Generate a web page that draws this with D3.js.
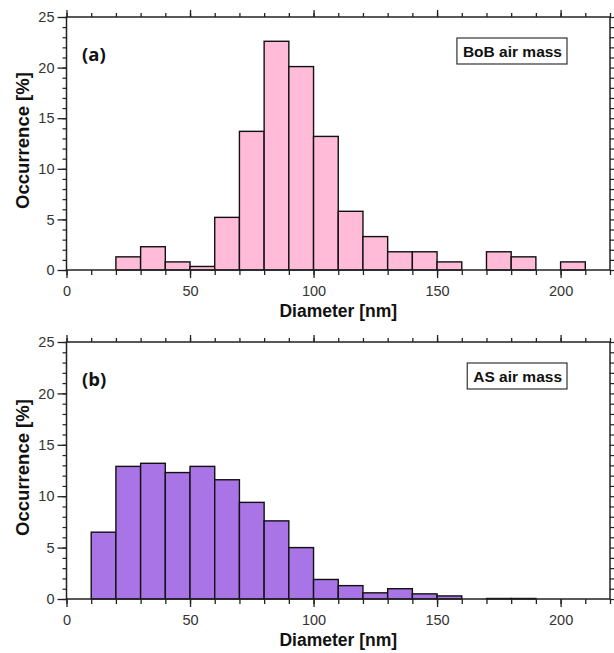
<!DOCTYPE html>
<html><head><meta charset="utf-8">
<script src="https://cdn.jsdelivr.net/npm/d3@7"></script>
<style>body{margin:0;background:#fff}</style>
</head><body>
<svg id="c" width="614" height="653"></svg>
<script>
const binStarts = [0,10,20,30,40,50,60,70,80,90,100,110,120,130,140,150,160,170,180,190,200];
const binWidth = 10;
const bobValues = [0,0,1.3,2.3,0.8,0.35,5.2,13.7,22.6,20.1,13.2,5.8,3.3,1.8,1.8,0.8,0,1.8,1.3,0,0.8];
const asValues  = [0,6.5,12.9,13.2,12.3,12.9,11.6,9.4,7.6,5.0,1.9,1.3,0.6,1.0,0.5,0.3,0,0.05,0.05,0,0];
const xTicks = [0,50,100,150,200];
const yTicks = [0,5,10,15,20,25];
const panels = [
  {label:"(a)", legend:"BoB air mass", values: bobValues, color:"#FFBBD8", top:17, bottom:270},
  {label:"(b)", legend:"AS air mass", values: asValues, color:"#A974E6", top:342, bottom:599}
];
const svg = d3.select("#c");
const L = 66.5, R = 610;
const x = d3.scaleLinear().domain([0,220]).range([L,R]);
const axisCol = "#222";

panels.forEach(p => {
  const y = d3.scaleLinear().domain([0,25]).range([p.bottom,p.top]);
  const g = svg.append("g");
  g.selectAll("rect.bar").data(binStarts).join("rect")
    .attr("x", d => x(d)).attr("width", d => x(d+binWidth)-x(d))
    .attr("y", (d,i) => y(p.values[i]))
    .attr("height", (d,i) => y(0)-y(p.values[i]))
    .attr("fill", p.color).attr("stroke", "#111").attr("stroke-width", 1.4);
  g.append("rect").attr("x", L).attr("y", p.top).attr("width", R-L).attr("height", p.bottom-p.top)
    .attr("fill","none").attr("stroke", axisCol).attr("stroke-width", 1.5);
  const minorX = d3.range(0,221,10);
  const bx = g.append("g").attr("transform",`translate(0,${p.bottom})`)
    .call(d3.axisBottom(x).tickValues(minorX).tickSize(5).tickFormat(""));
  bx.select(".domain").remove();
  bx.selectAll("line").attr("stroke",axisCol).attr("stroke-width",1.3);
  const bxM = g.append("g").attr("transform",`translate(0,${p.bottom})`)
    .call(d3.axisBottom(x).tickValues(xTicks).tickSize(8).tickPadding(8).tickFormat(d3.format("d")));
  bxM.select(".domain").remove();
  bxM.selectAll("line").attr("stroke",axisCol).attr("stroke-width",1.3);
  bxM.selectAll("text").attr("font-family","Liberation Sans, Arial").attr("font-size",14.5).attr("fill","#333");
  const tx = g.append("g").attr("transform",`translate(0,${p.top})`)
    .call(d3.axisTop(x).tickValues(minorX).tickSize(4).tickFormat(""));
  tx.select(".domain").remove();
  tx.selectAll("line").attr("stroke",axisCol).attr("stroke-width",1.3);
  const txM = g.append("g").attr("transform",`translate(0,${p.top})`)
    .call(d3.axisTop(x).tickValues(xTicks).tickSize(7).tickFormat(""));
  txM.select(".domain").remove();
  txM.selectAll("line").attr("stroke",axisCol).attr("stroke-width",1.3);
  const minorY = d3.range(0,26,1);
  const ly = g.append("g").attr("transform",`translate(${L},0)`)
    .call(d3.axisLeft(y).tickValues(minorY).tickSize(4).tickFormat(""));
  ly.select(".domain").remove();
  ly.selectAll("line").attr("stroke",axisCol).attr("stroke-width",1.2);
  const lyM = g.append("g").attr("transform",`translate(${L},0)`)
    .call(d3.axisLeft(y).tickValues(yTicks).tickSize(9).tickPadding(3).tickFormat(d3.format("d")));
  lyM.select(".domain").remove();
  lyM.selectAll("line").attr("stroke",axisCol).attr("stroke-width",1.3);
  lyM.selectAll("text").attr("font-family","Liberation Sans, Arial").attr("font-size",14.5).attr("fill","#333");
  const ry = g.append("g").attr("transform",`translate(${R},0)`)
    .call(d3.axisRight(y).tickValues(minorY).tickSize(5).tickFormat(""));
  ry.select(".domain").remove();
  ry.selectAll("line").attr("stroke",axisCol).attr("stroke-width",1.2);
  g.append("text").attr("x", (L+R)/2).attr("y", p.bottom+47)
    .attr("text-anchor","middle").attr("font-family","Liberation Sans, Arial").attr("font-weight","bold")
    .attr("font-size",17.5).attr("fill","#111").text("Diameter [nm]");
  g.append("text").attr("transform",`translate(29,${(p.top+p.bottom)/2 - 3}) rotate(-90)`)
    .attr("text-anchor","middle").attr("font-family","Liberation Sans, Arial").attr("font-weight","bold")
    .attr("font-size",18.5).attr("fill","#111").text("Occurrence [%]");
  g.append("text").attr("x", 82).attr("y", p.top+44)
    .attr("font-family","Open Sans, Lato, sans-serif").attr("font-weight","bold")
    .attr("font-size",18.5).attr("fill","#111").text(p.label);
  const box = g.append("rect").attr("y", p.top+21).attr("height", 26)
    .attr("fill","#fff").attr("stroke","#333").attr("stroke-width",1.2);
  const lt = g.append("text").attr("y", p.top+40)
    .attr("font-family","Liberation Sans, Arial").attr("font-weight","bold")
    .attr("font-size",15.5).attr("fill","#111").text(p.legend);
  const w = lt.node().getComputedTextLength();
  box.attr("x", 567 - (w+11)).attr("width", w+11);
  lt.attr("x", 567 - w - 5);
});
</script>
</body></html>
